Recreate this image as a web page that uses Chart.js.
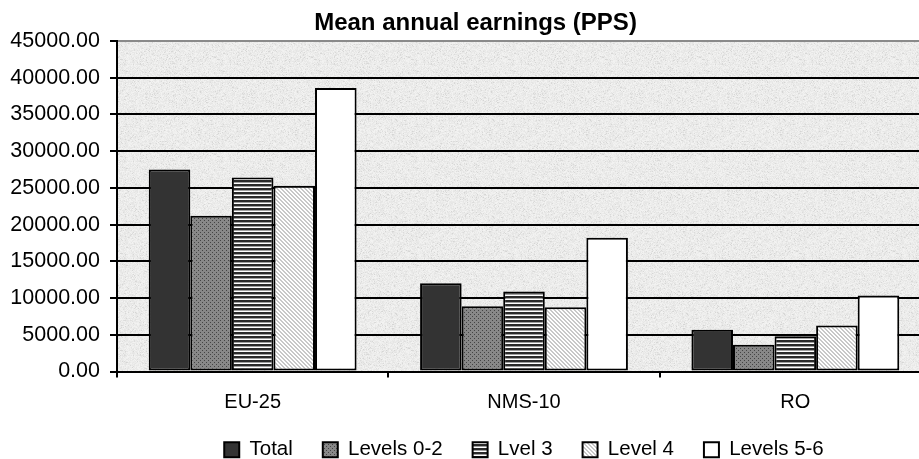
<!DOCTYPE html>
<html>
<head>
<meta charset="utf-8">
<title>Mean annual earnings (PPS)</title>
<script src="https://cdn.jsdelivr.net/npm/chart.js@4/dist/chart.umd.min.js"></script>
<style>
  html, body { margin: 0; padding: 0; overflow: hidden; background: #fff; }
  #wrap { width: 952px; height: 470px; }
</style>
</head>
<body>
<div id="wrap"><canvas id="myChart" width="952" height="470"></canvas></div>
<script>
const categories = ['EU-25', 'NMS-10', 'RO'];
const total = [27500, 12000, 5700];
const levels02 = [21200, 8900, 3650];
const lvl3 = [26400, 10900, 4800];
const level4 = [25300, 8750, 6250];
const levels56 = [38600, 18200, 10350];
const yTicks = [0, 5000, 10000, 15000, 20000, 25000, 30000, 35000, 40000, 45000];

// small tiles used as bar fills
function tile(w, h, paint) {
  const c = document.createElement('canvas');
  c.width = w; c.height = h;
  const g = c.getContext('2d');
  paint(g);
  return g.createPattern(c, 'repeat');
}

const dotted = tile(4, 4, g => {
  g.fillStyle = '#888888';
  g.fillRect(0, 0, 4, 4);
  g.fillStyle = '#444444';
  g.fillRect(0, 0, 1, 1);
  g.fillRect(2, 2, 1, 1);
});

const hstripes = tile(4, 4, g => {
  g.fillStyle = '#ffffff';
  g.fillRect(0, 0, 4, 4);
  g.fillStyle = '#2a2a2a';
  g.fillRect(0, 0, 4, 2);
  g.fillStyle = '#a0a0a0';
  g.fillRect(0, 2, 4, 1);
});

const diag = tile(4, 4, g => {
  g.fillStyle = '#ffffff';
  g.fillRect(0, 0, 4, 4);
  g.fillStyle = '#c8c8c8';
  for (let y = 0; y < 4; y++) {
    g.fillRect(y % 4, y, 1, 1);
    g.fillRect((y + 1) % 4, y, 1, 1);
  }
});

// speckled grey backdrop for the plot area
const paper = tile(97, 97, g => {
  const img = g.createImageData(97, 97);
  for (let y = 0; y < 97; y++) {
    for (let x = 0; x < 97; x++) {
      let h = Math.imul(x, 374761393) + Math.imul(y, 668265263);
      h = Math.imul(h ^ (h >>> 13), 1274126177);
      h = (h ^ (h >>> 16)) >>> 0;
      let v = 236 + (h % 15) - 7;
      if ((h >>> 8) % 11 === 0) v -= 16;
      const i = (y * 97 + x) * 4;
      img.data[i] = v; img.data[i + 1] = v; img.data[i + 2] = v - 1; img.data[i + 3] = 255;
    }
  }
  g.putImageData(img, 0, 0);
});

const plotBackdrop = {
  id: 'plotBackdrop',
  afterLayout(chart) {
    // nudge the title a little to the right of the canvas centre
    const t = chart.titleBlock;
    if (t) { t.left += 10; t.right += 10; }
  },
  beforeDraw(chart) {
    const {ctx, chartArea: a} = chart;
    ctx.save();
    ctx.fillStyle = paper;
    ctx.fillRect(a.left, a.top, a.right - a.left, a.bottom - a.top);
    ctx.restore();
  }
};

Chart.defaults.font.family = '"Liberation Sans", Arial, sans-serif';
Chart.defaults.color = '#000';

const ctx = document.getElementById('myChart');

const bar = (label, values, fill) => ({
  label: label,
  data: values,
  backgroundColor: fill,
  borderColor: '#000',
  borderWidth: 2,
  borderSkipped: false,
  barPercentage: 1,
  categoryPercentage: 0.766
});

new Chart(ctx, {
  type: 'bar',
  data: {
    labels: categories,
    datasets: [
      bar('Total', total, '#333333'),
      bar('Levels 0-2', levels02, dotted),
      bar('Lvel 3', lvl3, hstripes),
      bar('Level 4', level4, diag),
      bar('Levels 5-6', levels56, '#ffffff')
    ]
  },
  options: {
    responsive: false,
    animation: false,
    layout: { padding: { left: 0, right: 21, top: 0, bottom: 0 } },
    scales: {
      x: {
        offset: true,
        grid: {
          offset: true,
          drawOnChartArea: false,
          drawTicks: true,
          tickLength: 6,
          color: '#000',
          lineWidth: 2
        },
        border: { color: '#000', width: 2 },
        ticks: { font: { size: 20 }, padding: 13, color: '#000' },
        afterFit(scale) { scale.height = 38; }
      },
      y: {
        min: 0,
        max: 45000,
        afterBuildTicks(scale) { scale.ticks = yTicks.map(v => ({value: v})); },
        grid: {
          color: c => (c.tick && c.tick.value === 45000 ? '#8a8a8a' : '#000'),
          tickColor: '#000',
          lineWidth: 2,
          tickLength: 7
        },
        border: { color: '#000', width: 2 },
        ticks: {
          font: { size: 21.5 },
          padding: 10,
          color: '#000',
          callback: v => Number(v).toFixed(2)
        },
        afterFit(scale) { scale.width = 117; }
      }
    },
    plugins: {
      title: {
        display: true,
        text: 'Mean annual earnings (PPS)',
        font: { size: 24, weight: 'bold' },
        color: '#000',
        padding: { top: 8.6, bottom: 3.6 }
      },
      legend: {
        position: 'bottom',
        fullSize: false,
        labels: {
          boxWidth: 15,
          boxHeight: 15,
          padding: 30,
          font: { size: 20.5 },
          color: '#000'
        }
      },
      tooltip: { enabled: false }
    }
  },
  plugins: [plotBackdrop]
});
</script>
</body>
</html>
